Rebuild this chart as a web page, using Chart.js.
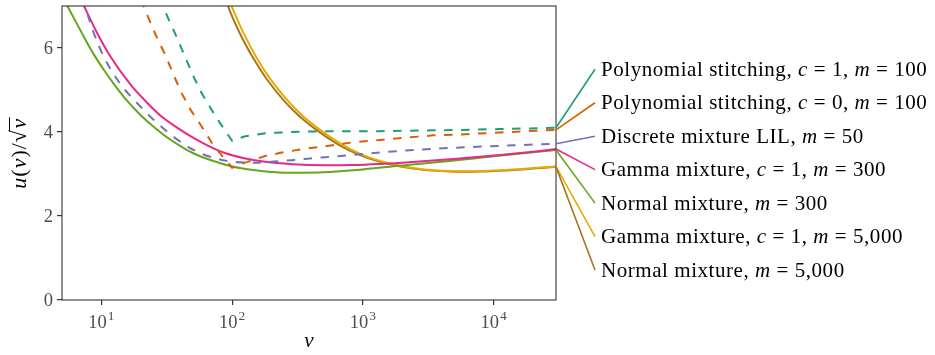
<!DOCTYPE html>
<html>
<head>
<meta charset="utf-8">
<script src="https://cdn.jsdelivr.net/npm/chart.js"></script>
<style>
  html, body { margin: 0; padding: 0; background: #fff; }
</style>
</head>
<body>
<canvas id="uChart" width="935" height="355"></canvas>
<script>
// values (v on a log axis, u(v)/sqrt(v) on y)
var xTicks = [10, 100, 1000, 10000];
var yTicks = [0, 2, 4, 6];

var polyC1V = [28, 29.5, 33, 36.6, 43.7, 50, 58.6, 70, 80.9, 90, 100, 126, 179, 240, 341, 690, 1355, 3440, 5550, 11200, 30000];
var polyC1U = [7.2, 7.0, 6.65, 6.35, 5.79, 5.36, 4.92, 4.52, 4.21, 4.0, 3.79, 3.90, 3.97, 3.99, 4.01, 4.02, 4.02, 4.04, 4.05, 4.07, 4.10];

var polyC0V = [20, 21, 25.7, 31.3, 36, 41.2, 48.3, 56.9, 69.8, 80.9, 90, 100, 126, 179, 240, 341, 485, 822, 1355, 3440, 5550, 11200, 30000];
var polyC0U = [7.16, 7.0, 6.35, 5.79, 5.33, 4.92, 4.52, 4.19, 3.75, 3.49, 3.32, 3.15, 3.27, 3.43, 3.51, 3.59, 3.65, 3.75, 3.81, 3.92, 3.94, 3.99, 4.05];

var lilV = [7.2, 7.5, 8.7, 10.4, 12.2, 14.3, 17, 20.4, 23.6, 30, 37.7, 47, 60, 75, 100, 130, 180, 286, 514, 822, 1355, 1930, 3440, 5550, 11200, 30000];
var lilU = [7.2, 7.0, 6.38, 5.80, 5.42, 5.10, 4.83, 4.57, 4.37, 4.08, 3.83, 3.63, 3.47, 3.37, 3.295, 3.27, 3.28, 3.33, 3.40, 3.45, 3.51, 3.55, 3.60, 3.63, 3.67, 3.72];

var gamma300V = [6.8, 7.37, 9.2, 11.6, 16.6, 22, 28.1, 37.7, 50.6, 70, 88, 126, 179, 286, 514, 822, 1355, 2000, 3440, 5550, 11200, 20000, 30000];
var gamma300U = [7.23, 7.0, 6.38, 5.82, 5.14, 4.72, 4.40, 4.11, 3.86, 3.63, 3.50, 3.37, 3.29, 3.235, 3.21, 3.215, 3.24, 3.27, 3.32, 3.37, 3.45, 3.53, 3.595];

var normal300V = [5, 5.5, 7, 8.7, 10.5, 12.4, 15, 20, 25, 30, 40, 50, 70, 100, 150, 200, 300, 500, 1000, 2000, 5000, 10000, 20000, 30000];
var normal300U = [7.25, 7.0, 6.39, 5.86, 5.47, 5.15, 4.82, 4.40, 4.13, 3.93, 3.67, 3.50, 3.32, 3.18, 3.09, 3.05, 3.03, 3.04, 3.11, 3.20, 3.32, 3.42, 3.515, 3.57];

var gamma5000V = [95, 99, 122, 154, 192, 262, 331, 471, 670, 953, 1355, 1930, 2740, 3900, 5550, 8000, 11200, 20000, 30000];
var gamma5000U = [7.13, 7.0, 6.36, 5.77, 5.30, 4.77, 4.44, 4.05, 3.73, 3.48, 3.31, 3.195, 3.12, 3.08, 3.065, 3.07, 3.09, 3.14, 3.18];

var normal5000V = [89, 93, 115, 145, 182, 250, 318, 455, 650, 930, 1330, 1900, 2700, 3900, 5550, 8000, 11200, 20000, 30000];
var normal5000U = [7.2, 7.0, 6.34, 5.76, 5.28, 4.74, 4.41, 4.02, 3.70, 3.46, 3.295, 3.185, 3.11, 3.07, 3.055, 3.06, 3.08, 3.13, 3.17];

// legend names: [text, italic]
var seriesNames = [
  [['Polynomial stitching, ', 0], ['c', 1], [' = 1, ', 0], ['m', 1], [' = 100', 0]],
  [['Polynomial stitching, ', 0], ['c', 1], [' = 0, ', 0], ['m', 1], [' = 100', 0]],
  [['Discrete mixture LIL, ', 0], ['m', 1], [' = 50', 0]],
  [['Gamma mixture, ', 0], ['c', 1], [' = 1, ', 0], ['m', 1], [' = 300', 0]],
  [['Normal mixture, ', 0], ['m', 1], [' = 300', 0]],
  [['Gamma mixture, ', 0], ['c', 1], [' = 1, ', 0], ['m', 1], [' = 5,000', 0]],
  [['Normal mixture, ', 0], ['m', 1], [' = 5,000', 0]]
];
var seriesColors = ['#1B9E77', '#D95F02', '#7570B3', '#E7298A', '#66A61E', '#E6AB02', '#A6761D'];
var seriesDashed = [true, true, true, false, false, false, false];

var fontFam = '"Liberation Serif", "DejaVu Serif", serif';

function pts(vs, us) {
  return vs.map(function (v, i) { return { x: v, y: us[i] }; });
}

var allSeries = [
  pts(polyC1V, polyC1U), pts(polyC0V, polyC0U), pts(lilV, lilU),
  pts(gamma300V, gamma300U), pts(normal300V, normal300U),
  pts(gamma5000V, gamma5000U), pts(normal5000V, normal5000U)
];

var datasets = allSeries.map(function (d, i) {
  var kinked = i < 2;
  return {
    data: d,
    borderColor: seriesColors[i],
    borderWidth: 2,
    borderDash: seriesDashed[i] ? [8.5, 8.5] : [],
    fill: false,
    pointRadius: 0,
    tension: kinked ? 0 : 0.4,
    cubicInterpolationMode: kinked ? 'default' : 'monotone',
    clip: 0
  };
});

function drawRich(ctx, parts, x, y, size) {
  parts.forEach(function (p) {
    ctx.font = (p[1] ? 'italic ' : '') + size + 'px ' + fontFam;
    ctx.fillText(p[0], x, y);
    x += ctx.measureText(p[0]).width;
  });
  return x;
}

function richWidth(ctx, parts, size) {
  var w = 0;
  parts.forEach(function (p) {
    ctx.font = (p[1] ? 'italic ' : '') + size + 'px ' + fontFam;
    w += ctx.measureText(p[0]).width;
  });
  return w;
}

var decorPlugin = {
  id: 'decor',
  afterDraw: function (chart) {
    var ctx = chart.ctx, area = chart.chartArea;
    var xs = chart.scales.x, ys = chart.scales.y;
    ctx.save();

    // panel border
    ctx.strokeStyle = '#333333';
    ctx.lineWidth = 1.1;
    ctx.strokeRect(area.left, area.top, area.right - area.left, area.bottom - area.top);

    // y tick labels
    ctx.fillStyle = '#4D4D4D';
    ctx.textAlign = 'right';
    ctx.textBaseline = 'alphabetic';
    ctx.font = '18.5px ' + fontFam;
    yTicks.forEach(function (t) {
      ctx.fillText(String(t), area.left - 9, ys.getPixelForValue(t) + 6);
    });

    // x tick labels 10^k
    ctx.textAlign = 'left';
    xTicks.forEach(function (t) {
      var px = xs.getPixelForValue(t);
      var ex = String(Math.round(Math.log10(t)));
      ctx.font = '18.5px ' + fontFam;
      var w1 = ctx.measureText('10').width;
      ctx.font = '13.5px ' + fontFam;
      var w2 = ctx.measureText(ex).width;
      var x0 = px - (w1 + w2 + 1) / 2;
      var base = area.bottom + 28;
      ctx.font = '18.5px ' + fontFam;
      ctx.fillText('10', x0, base);
      ctx.font = '13.5px ' + fontFam;
      ctx.fillText(ex, x0 + w1 + 1, base - 8.5);
    });

    // axis titles
    ctx.fillStyle = '#000000';
    ctx.font = 'italic 21px ' + fontFam;
    ctx.textAlign = 'center';
    ctx.fillText('v', (area.left + area.right) / 2, area.bottom + 47);

    ctx.save();
    ctx.translate(26, (area.top + area.bottom) / 2);
    ctx.rotate(-Math.PI / 2);
    ctx.textAlign = 'left';
    ctx.letterSpacing = '1px';
    var titleParts = [['u', 1], ['(', 0], ['v', 1], [')', 0], ['/', 0], ['\u221A', 0]];
    ctx.font = 'italic 22px ' + fontFam;
    var vw = ctx.measureText('v').width;
    var tw = richWidth(ctx, titleParts, 22) + vw + 1;
    var xEnd = drawRich(ctx, titleParts, -tw / 2, 0, 22);
    drawRich(ctx, [['v', 1]], xEnd + 0.5, 0, 22);
    ctx.strokeStyle = '#000000';
    ctx.lineWidth = 1;
    ctx.beginPath();
    ctx.moveTo(xEnd - 2, -16.5);
    ctx.lineTo(xEnd + vw + 1, -16.5);
    ctx.stroke();
    ctx.restore();

    // direct labels with connector lines from each series end
    var labelTop = area.top + 63.3, labelStep = 33.45;
    ctx.letterSpacing = '0.55px';
    chart.data.datasets.forEach(function (ds, i) {
      var meta = chart.getDatasetMeta(i);
      var last = meta.data[meta.data.length - 1];
      var ly = labelTop + i * labelStep;
      ctx.strokeStyle = seriesColors[i];
      ctx.lineWidth = 1.6;
      ctx.setLineDash([]);
      ctx.beginPath();
      ctx.moveTo(last.x, last.y);
      ctx.lineTo(area.right + 39, ly);
      ctx.stroke();
      ctx.fillStyle = '#000000';
      ctx.textAlign = 'left';
      drawRich(ctx, seriesNames[i], area.right + 45, ly + 6.5, 21);
    });

    ctx.restore();
  }
};

var ctx = document.getElementById('uChart').getContext('2d');
var chart = new Chart(ctx, {
  type: 'line',
  data: { datasets: datasets },
  options: {
    responsive: false,
    animation: false,
    layout: { padding: { left: 0, right: 379, top: 6, bottom: 0 } },
    plugins: { legend: { display: false }, tooltip: { enabled: false } },
    scales: {
      x: {
        type: 'logarithmic',
        min: 5,
        max: 30000,
        afterBuildTicks: function (s) { s.ticks = xTicks.map(function (v) { return { value: v }; }); },
        afterFit: function (s) { s.height = 55; },
        ticks: { display: false },
        grid: { drawOnChartArea: false, drawTicks: true, tickLength: 5, color: '#333333', lineWidth: 1.2 },
        border: { display: false }
      },
      y: {
        type: 'linear',
        min: 0,
        max: 7,
        afterBuildTicks: function (s) { s.ticks = yTicks.map(function (v) { return { value: v }; }); },
        afterFit: function (s) { s.width = 62; },
        ticks: { display: false },
        grid: { drawOnChartArea: false, drawTicks: true, tickLength: 5, color: '#333333', lineWidth: 1.2 },
        border: { display: false }
      }
    }
  },
  plugins: [decorPlugin]
});
</script>
</body>
</html>
